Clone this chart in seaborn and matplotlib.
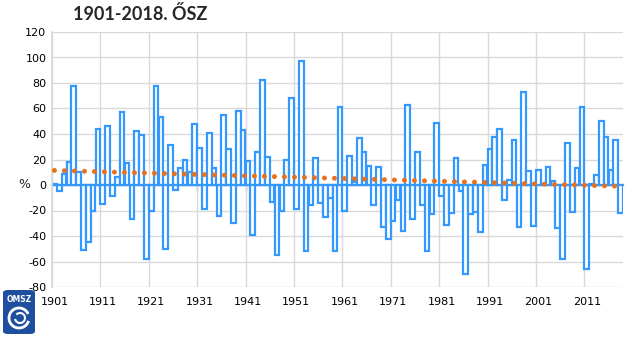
import numpy as np
import pandas as pd
import matplotlib
matplotlib.use("Agg")
import matplotlib.pyplot as plt
import seaborn as sns
from matplotlib.patches import FancyBboxPatch, Arc

# ============================================
# DATA: autumn precipitation anomaly (%), 1901-2018
# ============================================
years = list(range(1901, 2019))
anomaly = [
    1, -5, 9, 18, 78, 10, -51, -45, -20, 44,           # 1901-1910
    -15, 46, -9, 6, 57, 17, -27, 42, 39, -58,          # 1911-1920
    -20, 78, 53, -50, 31, -4, 13, 20, 10, 48,          # 1921-1930
    29, -19, 41, 13, -24, 55, 28, -30, 58, 43,         # 1931-1940
    19, -39, 26, 82, 22, -13, -55, -20, 20, 68,        # 1941-1950
    -19, 97, -52, -16, 21, -14, -25, -10, -52, 61,     # 1951-1960
    -20, 23, 2, 37, 26, 15, -16, 14, -33, -42,         # 1961-1970
    -28, -12, -36, 63, -27, 26, -16, -52, -23, 49,     # 1971-1980
    -9, -31, -22, 21, -5, -70, -23, -21, -37, 16,      # 1981-1990
    28, 38, 44, -12, 4, 35, -33, 73, 11, -32,          # 1991-2000
    12, 1, 14, 3, -34, -58, 33, -21, 13, 61,           # 2001-2010
    -66, 1, 8, 50, 38, 12, 35, -22,                    # 2011-2018
]
y_ticks = [-80, -60, -40, -20, 0, 20, 40, 60, 80, 100, 120]
label_years = [1901, 1911, 1921, 1931, 1941, 1951, 1961, 1971, 1981, 1991, 2001, 2011]

title = "1901-2018. ŐSZ"

# ============================================
# STYLE
# ============================================
sns.set_theme(style="white")
plt.rcParams["font.family"] = ["DejaVu Sans"]
plt.rcParams["axes.unicode_minus"] = False

bar_blue = "#3399ff"
trend_orange = "#e8711a"
grid_grey = "#d9d9d9"
axis_grey = "#8c8c8c"

fig = plt.figure(figsize=(6.4, 3.37), dpi=100)
ax = fig.add_axes([52 / 640, 50 / 337, 571 / 640, 255 / 337])

df = pd.DataFrame({"year": years, "anomaly": anomaly})

# bars: white with blue outline
sns.barplot(data=df, x="year", y="anomaly", color="white", saturation=1,
            edgecolor=bar_blue, linewidth=1.6, width=0.96, ax=ax, zorder=2)

# linear trend, round dots
sns.regplot(x=np.arange(len(years)), y=np.array(anomaly, dtype=float),
            scatter=False, ci=None, truncate=True, ax=ax,
            line_kws=dict(color=trend_orange, lw=3.6, ls=(0, (0.001, 2.0)),
                          dash_capstyle="round", zorder=3))

# ============================================
# AXES
# ============================================
ax.set_xlim(-0.5, len(years) - 0.5)
ax.set_ylim(-80, 120)
ax.set_yticks(y_ticks)
ax.set_yticklabels([str(v) for v in y_ticks])
ax.set_xticks([years.index(y) for y in label_years])
ax.set_xticklabels([str(y) for y in label_years])
ax.set_xticks(np.arange(-0.5, len(years), 10), minor=True)

ax.grid(False)
ax.grid(True, which="minor", axis="x", color=grid_grey, lw=1)
ax.grid(True, which="major", axis="y", color=grid_grey, lw=1)
ax.set_axisbelow(True)
ax.tick_params(axis="both", which="both", length=0, labelsize=8, colors="black")
ax.tick_params(axis="x", pad=7)
ax.tick_params(axis="y", pad=4)
for s in ["top", "right", "bottom"]:
    ax.spines[s].set_visible(False)
ax.spines["left"].set_color(grid_grey)
ax.set_xlabel("")
ax.set_ylabel("%", rotation=0, fontsize=9, va="center", ha="center")
ax.yaxis.set_label_coords(-0.049, 0.4)

# category axis crossing at zero
zero = ax.secondary_xaxis(0.4)
zero.set_xticks(np.arange(9.5, len(years), 10))
zero.tick_params(length=4, width=1, color=axis_grey, labelbottom=False, labeltop=False)
for s in zero.spines.values():
    s.set_color(axis_grey)
    s.set_linewidth(1.6)

# ============================================
# TITLE & LOGO
# ============================================
fig.text(140 / 640, 1 - 14 / 337, title, ha="center", va="center",
         fontsize=13, fontweight="bold", family=["Lato", "DejaVu Sans"])

logo = FancyBboxPatch((3 / 640, 3 / 337), 32 / 640, 44 / 337,
                      boxstyle="round,pad=0,rounding_size=0.008",
                      transform=fig.transFigure, fc="#1d4f9e", ec="none")
fig.patches.append(logo)
fig.text(19 / 640, 1 - 299 / 337, "OMSZ", color="white", fontsize=5.5,
         fontweight="bold", ha="center", va="center")
swirl = Arc((19 / 640, 1 - 318 / 337), 20 / 640, 20 / 337, theta1=40, theta2=330,
            transform=fig.transFigure, color="white", lw=2)
swirl2 = Arc((20 / 640, 1 - 318 / 337), 10 / 640, 10 / 337, theta1=200, theta2=120,
             transform=fig.transFigure, color="white", lw=1.5)
fig.patches.append(swirl)
fig.patches.append(swirl2)

fig.savefig("out.png", dpi=100)
